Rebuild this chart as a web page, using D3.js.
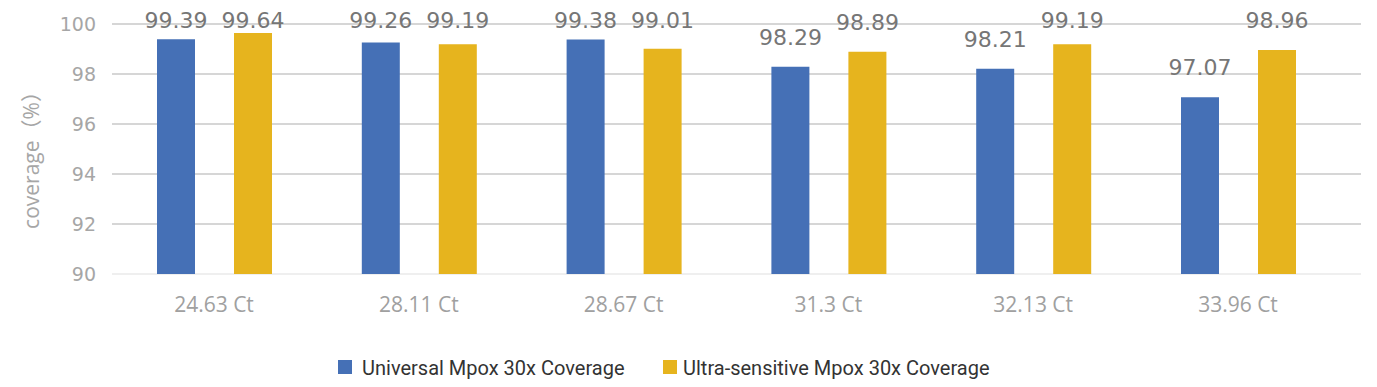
<!DOCTYPE html>
<html>
<head>
<meta charset="utf-8">
<script src="https://cdn.jsdelivr.net/npm/d3@7"></script>
<style>
  body { margin: 0; background: #fff; }
  svg { display: block; }
</style>
</head>
<body>
<svg id="chart" width="1377" height="387"></svg>
<script>
// chart data
var categories = ['24.63 Ct', '28.11 Ct', '28.67 Ct', '31.3 Ct', '32.13 Ct', '33.96 Ct'];
var seriesNames = ['Universal Mpox 30x Coverage', 'Ultra-sensitive Mpox 30x Coverage'];
var universal = [99.39, 99.26, 99.38, 98.29, 98.21, 97.07];
var ultra = [99.64, 99.19, 99.01, 98.89, 99.19, 98.96];
var yTicks = [90, 92, 94, 96, 98, 100];

var colors = ['#4570b6', '#e6b41e'];

var svg = d3.select('#chart');
var chart = { left: 112, right: 1361, top: 24, bottom: 274 };

var x = d3.scaleBand()
  .domain(categories)
  .range([111.6, 1340.4])
  .padding(0);

var y = d3.scaleLinear()
  .domain([90, 100])
  .range([chart.bottom, chart.top]);

// gridlines
svg.append('g')
  .selectAll('line')
  .data(yTicks)
  .enter().append('line')
  .attr('x1', chart.left)
  .attr('x2', chart.right)
  .attr('y1', function (d) { return y(d); })
  .attr('y2', function (d) { return y(d); })
  .attr('stroke', function (d) { return d === 90 ? '#efefef' : '#d6d6d6'; })
  .attr('stroke-width', 2);

// y axis labels
var yAxis = d3.axisLeft(y).tickValues(yTicks).tickSize(0).tickPadding(0);
var gy = svg.append('g')
  .attr('transform', 'translate(96,0)')
  .call(yAxis);
gy.select('.domain').remove();
gy.selectAll('text')
  .attr('dy', '0.35em')
  .style('font-family', '"DejaVu Sans", sans-serif')
  .style('font-size', '19px')
  .style('fill', '#a6a6a6');

// y axis title
svg.append('text')
  .attr('transform', 'translate(39,155) rotate(-90)')
  .attr('text-anchor', 'middle')
  .style('font-family', '"Open Sans", "Noto Sans CJK SC", sans-serif')
  .style('font-size', '21px')
  .style('fill', '#a6a6a6')
  .text('coverage（%）');

// x axis labels
var xAxis = d3.axisBottom(x).tickSize(0).tickPadding(0);
var gx = svg.append('g')
  .attr('transform', 'translate(0,' + chart.bottom + ')')
  .call(xAxis);
gx.select('.domain').remove();
gx.selectAll('text')
  .attr('y', 38)
  .attr('dy', 0)
  .style('font-family', '"Open Sans", sans-serif')
  .style('font-size', '21px')
  .style('fill', '#a0a0a0');

// bars
var barW = 38;
var offsets = [-57, 20];
var series = [universal, ultra];

series.forEach(function (vals, s) {
  var g = svg.append('g');
  var data = categories.map(function (c, i) { return { cat: c, value: vals[i] }; });

  g.selectAll('rect')
    .data(data)
    .enter().append('rect')
    .attr('x', function (d) { return x(d.cat) + x.bandwidth() / 2 + offsets[s]; })
    .attr('y', function (d) { return y(d.value); })
    .attr('width', barW)
    .attr('height', function (d) { return y(90) - y(d.value); })
    .style('fill', colors[s]);

  g.selectAll('text')
    .data(data)
    .enter().append('text')
    .attr('x', function (d) { return x(d.cat) + x.bandwidth() / 2 + offsets[s] + barW / 2; })
    .attr('y', function (d) { return Math.max(28, y(d.value) - 22); })
    .attr('text-anchor', 'middle')
    .style('font-family', '"DejaVu Sans", sans-serif')
    .style('font-size', '22px')
    .style('fill', '#767676')
    .text(function (d) { return d.value; });
});

// legend
var legendX = [338, 663];
var textX = [362, 683];
var legend = svg.append('g');
seriesNames.forEach(function (name, i) {
  legend.append('rect')
    .attr('x', legendX[i])
    .attr('y', 360)
    .attr('width', 14)
    .attr('height', 14)
    .style('fill', colors[i]);
  legend.append('text')
    .attr('x', textX[i])
    .attr('y', 375)
    .style('font-family', 'Roboto, sans-serif')
    .style('font-size', '20px')
    .style('fill', '#333')
    .text(name);
});
</script>
</body>
</html>
